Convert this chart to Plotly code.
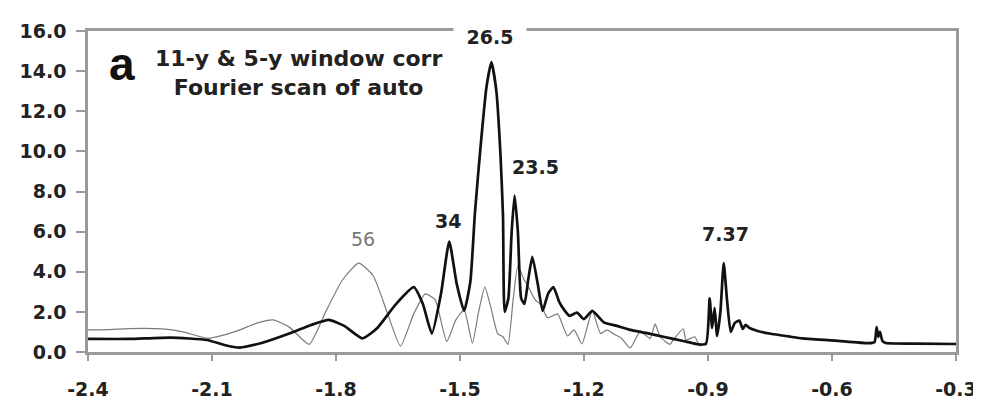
import plotly.graph_objects as go

# ---- data ----
black_x = [-2.40, -2.30, -2.20, -2.112, -2.07, -2.033, -1.98, -1.913, -1.86, -1.817, -1.78, -1.736,
           -1.70, -1.656, -1.612, -1.59, -1.568, -1.546, -1.526, -1.508, -1.49, -1.475, -1.464,
           -1.45, -1.436, -1.424, -1.412, -1.402, -1.396, -1.392, -1.383, -1.375, -1.368, -1.36,
           -1.352, -1.344, -1.335, -1.325, -1.312, -1.30, -1.287, -1.274, -1.26, -1.248, -1.235,
           -1.217, -1.20, -1.18, -1.152, -1.12, -1.088, -1.05, -1.008, -0.96, -0.928, -0.905,
           -0.896, -0.89, -0.884, -0.878, -0.87, -0.862, -0.854, -0.845, -0.835, -0.824, -0.816,
           -0.809, -0.80, -0.78, -0.751, -0.70, -0.672, -0.593, -0.511, -0.497, -0.492, -0.488,
           -0.484, -0.478, -0.47, -0.40, -0.30]
black_y = [0.65, 0.65, 0.72, 0.60, 0.35, 0.22, 0.45, 0.92, 1.35, 1.60, 1.30, 0.68,
           1.20, 2.36, 3.23, 2.40, 0.92, 2.90, 5.50, 3.40, 2.05, 3.50, 6.90,
           10.3, 13.2, 14.45, 13.0, 9.8, 6.8, 2.00, 2.67, 6.00, 7.80, 6.00,
           2.67, 2.40, 3.60, 4.74, 3.40, 2.05, 2.90, 3.24, 2.50, 2.10, 1.80,
           1.96, 1.64, 2.05, 1.48, 1.30, 1.10, 0.95, 0.76, 0.55, 0.40, 0.40,
           2.67, 1.20, 2.20, 0.80, 2.00, 4.43, 2.60, 1.00, 1.45, 1.57, 1.15,
           1.35, 1.20, 1.05, 0.92, 0.76, 0.68, 0.57, 0.44, 0.50, 1.24, 0.75,
           1.00, 0.55, 0.45, 0.42, 0.40]

gray_x = [-2.40, -2.35, -2.30, -2.22, -2.17, -2.11, -2.07, -2.033, -1.99, -1.952, -1.913, -1.865,
          -1.824, -1.784, -1.745, -1.71, -1.675, -1.644, -1.612, -1.584, -1.56, -1.532, -1.51,
          -1.49, -1.47, -1.455, -1.44, -1.425, -1.409, -1.396, -1.384, -1.372, -1.36, -1.345,
          -1.336, -1.318, -1.304, -1.288, -1.264, -1.24, -1.224, -1.205, -1.18, -1.16, -1.145,
          -1.128, -1.11, -1.088, -1.064, -1.04, -1.028, -1.016, -0.992, -0.984, -0.96, -0.953,
          -0.932, -0.92, -0.904]
gray_y = [1.10, 1.12, 1.17, 1.15, 1.00, 0.68, 0.85, 1.10, 1.45, 1.60, 1.24, 0.38,
          2.05, 3.60, 4.43, 3.80, 1.90, 0.29, 1.90, 2.90, 2.60, 0.52, 1.60,
          2.10, 0.44, 2.00, 3.23, 2.20, 0.92, 0.76, 0.38, 2.50, 4.30, 3.60,
          3.30, 2.60, 2.35, 1.70, 1.90, 0.80, 1.10, 0.40, 2.05, 0.92, 1.10,
          0.90, 0.70, 0.20, 1.03, 0.68, 1.40, 0.76, 0.38, 0.60, 1.16, 0.60,
          0.76, 0.30, 0.50]

x_ticks = [-2.4, -2.1, -1.8, -1.5, -1.2, -0.9, -0.6, -0.3]
x_tick_labels = ["-2.4", "-2.1", "-1.8", "-1.5", "-1.2", "-0.9", "-0.6", "-0.3"]
y_ticks = [0, 2, 4, 6, 8, 10, 12, 14, 16]
y_tick_labels = ["0.0", "2.0", "4.0", "6.0", "8.0", "10.0", "12.0", "14.0", "16.0"]

peak_labels = ["26.5", "23.5", "34", "56", "7.37"]
peak_label_x = [-1.428, -1.318, -1.529, -1.735, -0.857]
peak_label_y = [15.71, 9.22, 6.54, 5.64, 5.87]
peak_label_gray = [False, False, False, True, False]

title_lines = ["11-y & 5-y window corr", "Fourier scan of auto"]
panel_letter = "a"

FONT = "DejaVu Sans"
AXIS_COL = "#9a9a9a"
TEXT_COL = "#222222"

fig = go.Figure()
fig.add_trace(go.Scatter(x=gray_x, y=gray_y, mode="lines",
                         line=dict(color="#7a7a7a", width=1.2, shape="spline", smoothing=0.5),
                         hoverinfo="skip", showlegend=False))
fig.add_trace(go.Scatter(x=black_x, y=black_y, mode="lines",
                         line=dict(color="#111111", width=2.7, shape="spline", smoothing=0.5),
                         hoverinfo="skip", showlegend=False))

annotations = []
for txt, ax_, ay_, g in zip(peak_labels, peak_label_x, peak_label_y, peak_label_gray):
    a = dict(x=ax_, y=ay_, xref="x", yref="y", text=txt, showarrow=False,
             font=dict(family=FONT, size=19, color="#777777" if g else TEXT_COL,
                       weight="normal" if g else "bold"),
             xanchor="center", yanchor="middle")
    if txt == "26.5":
        a.update(bgcolor="white", borderpad=6, width=60)
    annotations.append(a)

annotations.append(dict(x=0.039, y=0.898, xref="paper", yref="paper", text=panel_letter,
                        showarrow=False, xanchor="center", yanchor="middle",
                        font=dict(family="Liberation Sans", size=46, color="#111111", weight="bold")))
annotations.append(dict(x=0.242, y=0.868, xref="paper", yref="paper", text="<br>".join(title_lines),
                        showarrow=False, xanchor="center", yanchor="middle", align="center",
                        font=dict(family=FONT, size=22, color=TEXT_COL, weight="bold")))

fig.update_layout(
    width=981, height=404,
    margin=dict(l=80, r=23, t=21, b=48),
    paper_bgcolor="white", plot_bgcolor="white",
    annotations=annotations,
    xaxis=dict(range=[-2.4, -0.3], tickmode="array", tickvals=x_ticks, ticktext=x_tick_labels,
               showgrid=False, zeroline=False, showline=True, mirror=True,
               linecolor=AXIS_COL, linewidth=2.5, ticks="outside", ticklen=6, tickwidth=2,
               tickcolor=AXIS_COL, ticklabelstandoff=12,
               tickfont=dict(family=FONT, size=19, color=TEXT_COL, weight="bold")),
    yaxis=dict(range=[0, 16], tickmode="array", tickvals=y_ticks, ticktext=y_tick_labels,
               showgrid=False, zeroline=False, showline=True, mirror=True,
               linecolor=AXIS_COL, linewidth=2.5, ticks="outside", ticklen=9, tickwidth=2,
               tickcolor=AXIS_COL, ticklabelstandoff=6,
               tickfont=dict(family=FONT, size=19, color=TEXT_COL, weight="bold")),
)

fig.write_html("out.html")
